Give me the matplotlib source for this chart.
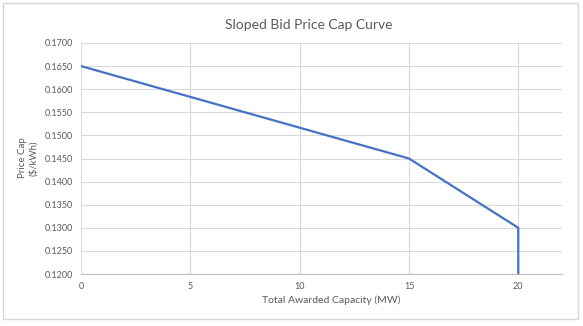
import matplotlib
matplotlib.use("Agg")
import matplotlib.pyplot as plt
from matplotlib.patches import Rectangle

capacity_mw = [0, 15, 20, 20]
price_cap = [0.165, 0.145, 0.130, 0.120]
x_ticks = [0, 5, 10, 15, 20]
y_ticks = [0.120, 0.125, 0.130, 0.135, 0.140, 0.145, 0.150, 0.155, 0.160, 0.165, 0.170]

plt.rcParams['font.family'] = ['Lato', 'DejaVu Sans']
fig = plt.figure(figsize=(5.83, 3.26), dpi=100)
fig.patches.append(Rectangle((3/583, 1-319/326), 575/583, 316/326, transform=fig.transFigure,
                             fill=False, edgecolor='#D9D9D9', linewidth=1))
ax = fig.add_axes([81/583, 1-274/326, 481/583, 231/326])
ax.plot(capacity_mw, price_cap, color='#4472C4', linewidth=1.6, solid_joinstyle='miter', zorder=3)
ax.set_xlim(0, 22)
ax.set_ylim(0.12, 0.17)
ax.set_xticks(x_ticks)
ax.set_yticks(y_ticks)
ax.set_yticklabels([f"{v:.4f}" for v in y_ticks])
ax.grid(True, color='#D9D9D9', linewidth=0.8)
ax.set_axisbelow(True)
for s in ['top', 'right', 'left']:
    ax.spines[s].set_visible(False)
ax.spines['bottom'].set_color('#BFBFBF')
ax.tick_params(length=0, labelsize=6.5, labelcolor='#595959', pad=6)
fig.text(331/583, 1-300/326, 'Total Awarded Capacity (MW)', ha='center', va='center',
         fontsize=7.5, color='#595959')
fig.text(28/583, 1-158/326, 'Price Cap\n($/kWh)', ha='center', va='center', rotation=90,
         fontsize=7, color='#595959', linespacing=1.1)
fig.text(309/583, 1-25/326, 'Sloped Bid Price Cap Curve', ha='center', va='center',
         fontsize=10, color='#595959')
fig.savefig('out.png', dpi=100)
